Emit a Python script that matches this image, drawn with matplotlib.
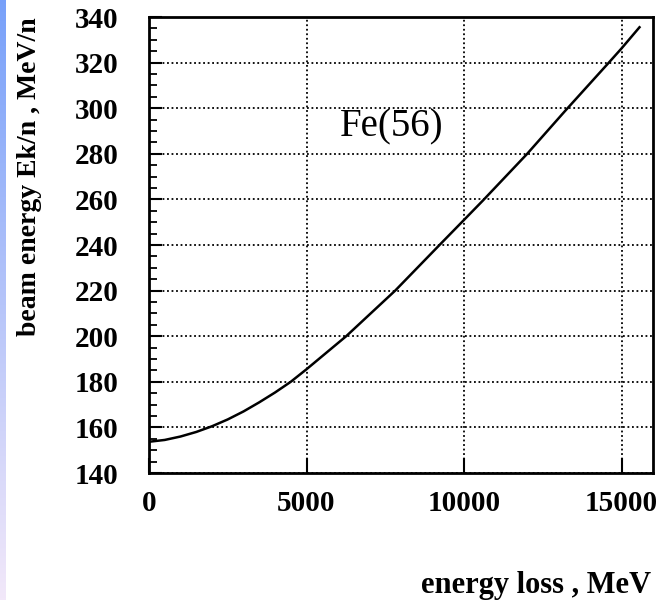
import numpy as np
import matplotlib
matplotlib.use('Agg')
import matplotlib.pyplot as plt
from matplotlib.ticker import MultipleLocator

# energy loss (MeV) vs beam energy Ek/n (MeV/n)
energy_loss = [0, 500, 1000, 1500, 2000, 2500, 3000, 3500, 4000, 4500, 5000,
               6260, 7816, 9222, 10000, 10600, 12006, 13190, 14598, 15000, 15571]
beam_energy = [153.7, 154.5, 156, 158, 160.5, 163.5, 167, 171, 175.3, 180, 185.5,
               200, 220, 240, 251, 259.5, 280, 298.5, 320, 326.2, 335.5]

x_ticks = [0, 5000, 10000, 15000]
y_ticks = [140, 160, 180, 200, 220, 240, 260, 280, 300, 320, 340]

plt.rcParams['font.family'] = ['Liberation Serif', 'DejaVu Serif']

fig = plt.figure(figsize=(6.71, 6.0), dpi=100)

# blue-to-lavender strip at the left edge
strip = fig.add_axes([0, 0, 6 / 671, 1])
grad = np.linspace(0, 1, 256).reshape(-1, 1)
top = np.array([0.47, 0.63, 0.98])
bot = np.array([0.95, 0.91, 0.98])
img = top[None, None, :] * (1 - grad[:, :, None]) + bot[None, None, :] * grad[:, :, None]
strip.imshow(img, aspect='auto', extent=[0, 1, 0, 1])
strip.axis('off')

ax = fig.add_axes([149 / 671, 127 / 600, 504 / 671, 456 / 600])
ax.plot(energy_loss, beam_energy, color='black', lw=1.8)

ax.set_xlim(0, 16000)
ax.set_ylim(140, 340)
ax.set_xticks(x_ticks)
ax.set_yticks(y_ticks)
ax.yaxis.set_minor_locator(MultipleLocator(5))
ax.grid(True, which='major', color='black', linestyle=(0, (1, 1.5)), lw=1.3)

ax.tick_params(axis='both', which='both', direction='in', top=False, right=False)
ax.tick_params(axis='y', which='major', length=9, width=1.5, pad=22)
ax.tick_params(axis='y', which='minor', length=6, width=1.3)
ax.tick_params(axis='x', which='major', length=11, width=1.5, pad=12)
for lab in ax.get_xticklabels() + ax.get_yticklabels():
    lab.set_fontsize(21)
    lab.set_fontweight('bold')
for s in ax.spines.values():
    s.set_linewidth(2)

ax.text(6048, 291.8, 'Fe(56)', fontsize=28, ha='left', va='center')

fig.text(30 / 671, 1 - 177 / 600, 'beam energy Ek/n , MeV/n', rotation=90,
         ha='center', va='center', fontsize=20, fontweight='bold')
fig.text(651 / 671, 1 - 585 / 600, 'energy loss , MeV', ha='right', va='center',
         fontsize=22, fontweight='bold')

fig.savefig('out.png', dpi=100)
